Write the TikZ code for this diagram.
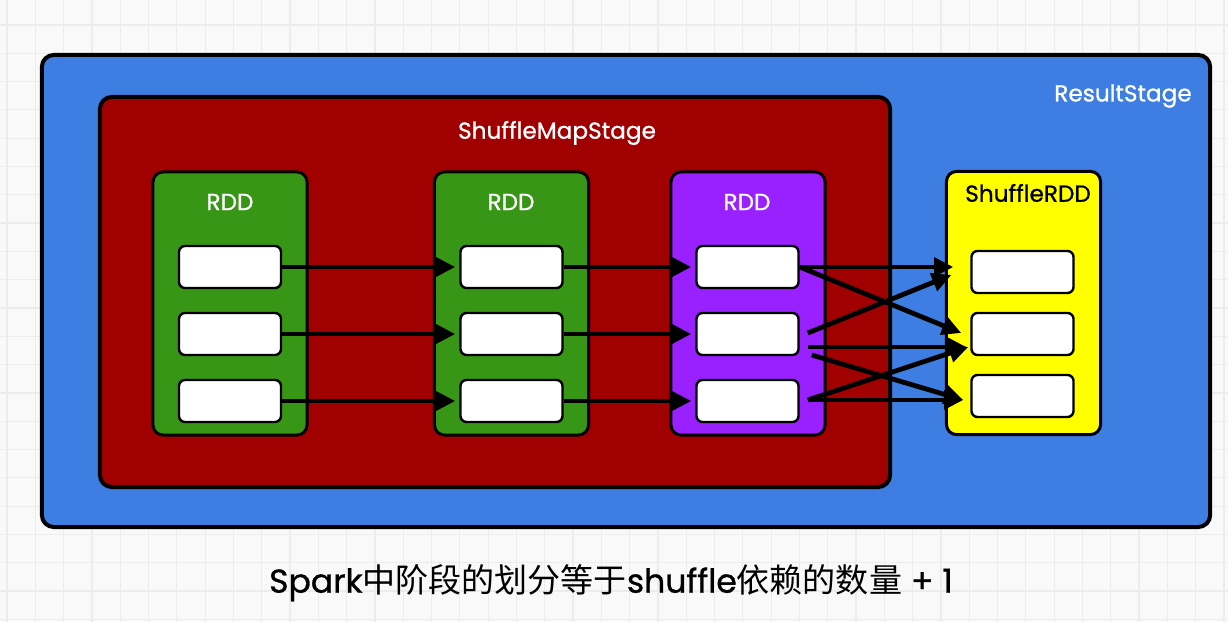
\documentclass[tikz,border=0pt]{standalone}
\usepackage{fontspec}
\setmainfont{Poppins}
\newfontfamily\lblfont{Poppins}[FakeBold=0.9]
\newfontfamily\cjk{Noto Sans CJK SC}
\usetikzlibrary{arrows.meta,calc}
\definecolor{stageblue}{RGB}{62,125,226}
\definecolor{stagered}{RGB}{160,0,0}
\definecolor{rddgreen}{RGB}{56,150,22}
\definecolor{rddpurple}{RGB}{153,32,255}
\definecolor{rddyellow}{RGB}{255,255,0}
\definecolor{paper}{RGB}{249,249,249}
\definecolor{gridc}{RGB}{236,236,236}
\begin{document}
\begin{tikzpicture}[x=0.025cm,y=-0.025cm,
  gridline/.style={draw=gridc,line width=0.03cm},
  stagebox/.style={draw=black,line width=0.1cm,rounded corners=0.3cm,inner sep=0pt},
  rddbox/.style={draw=black,line width=0.075cm,rounded corners=0.25cm,inner sep=0pt,minimum width=3.85cm,minimum height=6.575cm},
  part/.style={draw=black,fill=white,line width=0.06cm,rounded corners=0.15cm,inner sep=0pt,minimum width=2.55cm,minimum height=1.05cm},
  flow/.style={line width=0.12cm,-{Triangle[length=0.48cm,width=0.46cm]}},
  lbl/.style={font=\lblfont\fontsize{16.5}{17}\selectfont,text=white,inner sep=0pt}]
\useasboundingbox[fill=paper] (0,0) rectangle (1228,622);
% background grid
\foreach \gx in {0,...,43}{\draw[gridline] (7+28.3*\gx,0) -- (7+28.3*\gx,622);}
\foreach \gy in {0,...,22}{\draw[gridline] (0,25+28.3*\gy) -- (1228,25+28.3*\gy);}
% stages
\node[stagebox,fill=stageblue,minimum width=29.2cm,minimum height=11.8cm] (result) at (626,291) {};
\node[stagebox,fill=stagered,minimum width=19.75cm,minimum height=9.75cm] (smap) at (495,292) {};
\node[lbl] (resultlbl) at (1123,96) {ResultStage};
\node[lbl] (smaplbl) at (557,133) {ShuffleMapStage};
% rdds
\node[rddbox,fill=rddgreen] (rdda) at (230,303.5) {};
\node[rddbox,fill=rddgreen] (rddb) at (511.5,303.5) {};
\node[rddbox,fill=rddpurple] (rddc) at (748,303.5) {};
\node[rddbox,fill=rddyellow] (rdds) at (1023.5,303) {};
\node[lbl] (la) at (230,202) {RDD};
\node[lbl] (lb) at (511,202) {RDD};
\node[lbl] (lc) at (747,202) {RDD};
\node[lbl,text=black] (ls) at (1028,193) {ShuffleRDD};
% partitions
\foreach \n/\x in {a/230,b/511.5,c/747.5}{
  \node[part] (\n1) at (\x,267) {};
  \node[part] (\n2) at (\x,334) {};
  \node[part] (\n3) at (\x,401) {};
}
\node[part] (s1) at (1022.5,272) {};
\node[part] (s2) at (1022.5,334) {};
\node[part] (s3) at (1022.5,396) {};
% narrow deps
\foreach \i in {1,2,3}{
  \draw[flow,shorten >=0.1cm] (a\i.east) -- (b\i.west);
  \draw[flow,shorten >=0.1cm] (b\i.east) -- (c\i.west);
}
% shuffle deps
\draw[flow] (c1.east) -- ($(s1.west)+(-17,-5)$);
\draw[flow] (c1.east) -- ($(s2.west)+(-9,-1)$);
\draw[flow] ($(c2.east)+(8,-1)$) -- ($(s1.west)+(-19,3)$);
\draw[flow] ($(c2.east)+(8,13)$) -- ($(s2.west)+(-4,13)$);
\draw[flow] ($(c2.east)+(12,21)$) -- ($(s3.west)+(-7,4)$);
\draw[flow] ($(c3.east)+(8,-1)$) -- ($(s2.west)+(-2,13)$);
\draw[flow] ($(c3.east)+(8,-1)$) -- ($(s3.west)+(-7,4)$);
% caption
\node[inner sep=0pt,font=\fontsize{23.5}{24}\selectfont] (cap) at (611,583) {\lblfont Spark{\cjk 中阶段的划分等于}shuffle{\cjk 依赖的数量} + 1};
\end{tikzpicture}
\end{document}
